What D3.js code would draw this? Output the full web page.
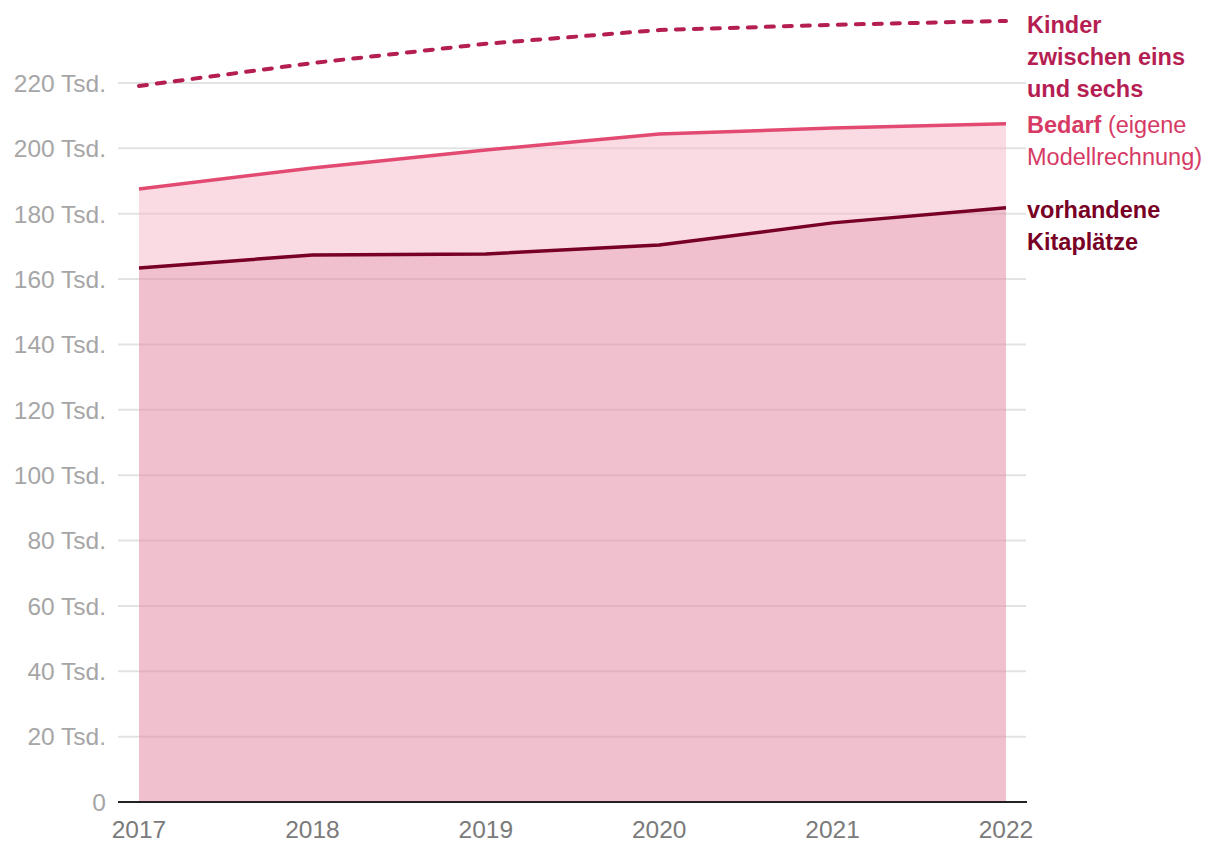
<!DOCTYPE html>
<html><head><meta charset="utf-8">
<script src="https://cdn.jsdelivr.net/npm/d3@7"></script>
<style>body{margin:0;background:#fff}svg{display:block}text{font-family:"Liberation Sans",Arial,sans-serif}</style>
</head><body><svg id="c" width="1220" height="850"></svg>
<script>
const years = [2017, 2018, 2019, 2020, 2021, 2022];
const kinder = [219.1, 226.1, 232.0, 236.2, 237.8, 239.0];
const bedarf = [187.6, 194.0, 199.5, 204.4, 206.2, 207.5];
const plaetze = [163.4, 167.4, 167.7, 170.4, 177.2, 181.8];
const yTicks = [0, 20, 40, 60, 80, 100, 120, 140, 160, 180, 200, 220];

const svg = d3.select("#c");
const x = d3.scaleLinear().domain([2017, 2022]).range([139, 1006]);
const y = d3.scaleLinear().domain([0, 220]).range([802, 83]);

// grid
svg.append("g").selectAll("line").data(yTicks.filter(d => d > 0)).join("line")
  .attr("x1", 118).attr("x2", 1026).attr("y1", d => y(d)).attr("y2", d => y(d))
  .attr("stroke", "#e3e3e3").attr("stroke-width", 2);

const data = years.map((yr, i) => ({yr, k: kinder[i], b: bedarf[i], p: plaetze[i]}));
svg.append("path").datum(data)
  .attr("d", d3.area().x(d => x(d.yr)).y0(d => y(d.p)).y1(d => y(d.b)))
  .attr("fill", "#f5b8c9").attr("fill-opacity", 0.5);
svg.append("path").datum(data)
  .attr("d", d3.area().x(d => x(d.yr)).y0(y(0)).y1(d => y(d.p)))
  .attr("fill", "#e38ca7").attr("fill-opacity", 0.55);

// y labels
svg.append("g").selectAll("text").data(yTicks).join("text")
  .attr("x", 106).attr("y", d => y(d)).attr("dy", "0.36em").attr("text-anchor", "end")
  .attr("fill", "#a6a6a6").attr("font-size", 24.5)
  .text(d => d === 0 ? "0" : d + " Tsd.");

// x axis
svg.append("line").attr("x1", 118).attr("x2", 1027).attr("y1", y(0)).attr("y2", y(0))
  .attr("stroke", "#222").attr("stroke-width", 2);
svg.append("g").selectAll("text").data(years).join("text")
  .attr("x", d => x(d)).attr("y", 838).attr("text-anchor", "middle")
  .attr("fill", "#7a7a7a").attr("font-size", 24.5).text(d => d);

const line = key => d3.line().x(d => x(d.yr)).y(d => y(d[key]));
svg.append("path").datum(data).attr("d", line("b")).attr("fill", "none")
  .attr("stroke", "#e34a72").attr("stroke-width", 3.5);
svg.append("path").datum(data).attr("d", line("p")).attr("fill", "none")
  .attr("stroke", "#780024").attr("stroke-width", 3.5);
svg.append("path").datum(data).attr("d", line("k")).attr("fill", "none")
  .attr("stroke", "#b51e52").attr("stroke-width", 4).attr("stroke-dasharray", "8 10")
  .attr("stroke-linecap", "round");

// labels
const lab = (lines, yy, color) => {
  const t = svg.append("text").attr("x", 1027).attr("y", yy).attr("font-size", 23.5).attr("fill", color);
  lines.forEach((ln, i) => {
    const ts = t.append("tspan").attr("x", 1027).attr("dy", i === 0 ? 0 : 32);
    ln.forEach(seg => ts.append("tspan").attr("font-weight", seg[1] ? "bold" : "normal").text(seg[0]));
  });
};
lab([[["Kinder", 1]], [["zwischen eins", 1]], [["und sechs", 1]]], 33, "#b51e52");
lab([[["Bedarf", 1], [" (eigene", 0]], [["Modellrechnung)", 0]]], 133, "#d63a65");
lab([[["vorhandene", 1]], [["Kitaplätze", 1]]], 218, "#780024");
</script></body></html>
